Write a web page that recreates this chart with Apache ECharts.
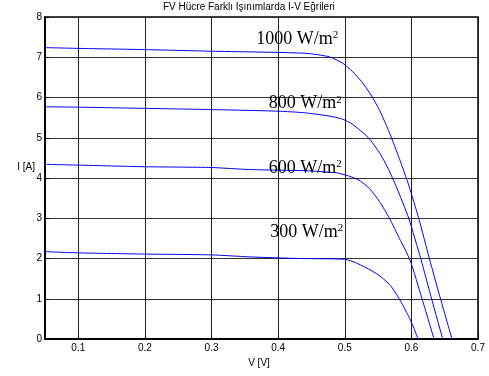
<!DOCTYPE html>
<html>
<head>
<meta charset="utf-8">
<script src="https://cdn.jsdelivr.net/npm/echarts@6/dist/echarts.min.js"></script>
<style>
  html, body { margin: 0; padding: 0; background: #fff; }
  #chart { width: 489px; height: 376px; }
</style>
</head>
<body>
<div id="chart"></div>
<script>
// eksen degerleri
var xTicks = [0.1, 0.2, 0.3, 0.4, 0.5, 0.6, 0.7];

// 1000 W/m2
var v1000 = [0.05, 0.10, 0.20, 0.30, 0.44, 0.477, 0.497, 0.512, 0.525, 0.538, 0.552, 0.567, 0.582, 0.596, 0.611, 0.627, 0.644, 0.661];
var i1000 = [7.24, 7.22, 7.19, 7.15, 7.10, 7.01, 6.85, 6.64, 6.40, 6.10, 5.69, 5.13, 4.48, 3.82, 3.00, 2.00, 0.98, 0];

// 800 W/m2
var v800 = [0.05, 0.10, 0.20, 0.30, 0.40, 0.44, 0.48, 0.497, 0.512, 0.535, 0.552, 0.565, 0.578, 0.596, 0.614, 0.630, 0.647];
var i800 = [5.77, 5.76, 5.73, 5.70, 5.66, 5.62, 5.53, 5.46, 5.33, 5.01, 4.63, 4.24, 3.76, 3.00, 2.00, 1.02, 0];

// 600 W/m2
var v600 = [0.05, 0.10, 0.20, 0.30, 0.357, 0.442, 0.487, 0.502, 0.52, 0.537, 0.552, 0.567, 0.582, 0.598, 0.616, 0.634];
var i600 = [4.34, 4.32, 4.28, 4.26, 4.21, 4.18, 4.13, 4.07, 3.96, 3.74, 3.42, 3.00, 2.50, 1.96, 1.00, 0];

// 300 W/m2
var v300 = [0.05, 0.10, 0.20, 0.30, 0.357, 0.432, 0.50, 0.516, 0.532, 0.549, 0.567, 0.581, 0.596, 0.603, 0.610];
var i300 = [2.17, 2.14, 2.11, 2.09, 2.04, 2.00, 1.98, 1.90, 1.77, 1.61, 1.36, 1.02, 0.56, 0.30, 0];

// egri etiketleri
var labelText = ['1000 W/m', '800 W/m', '600 W/m', '300 W/m'];
var labelV = [0.367, 0.386, 0.386, 0.388];
var labelI = [7.23, 5.63, 4.03, 2.44];

function pairs(v, i) {
	var out = [];
	for (var k = 0; k < v.length; k++) out.push([v[k], i[k]]);
	return out;
}

function curve(v, i, idx) {
	return {
		type: 'line',
		data: pairs(v, i),
		symbol: 'none',
		smooth: 0.2,
		lineStyle: { color: '#0000ff', width: 1 },
		markPoint: {
			symbol: 'circle',
			symbolSize: 0,
			silent: true,
			data: [{ coord: [labelV[idx], labelI[idx]], value: 0 }],
			label: {
				show: true,
				position: [0, 0],
				align: 'left',
				verticalAlign: 'bottom',
				formatter: '{a|' + labelText[idx] + '}{s|2}',
				rich: {
					a: { fontFamily: 'Liberation Serif', fontSize: 18, color: '#000' },
					s: { fontFamily: 'Liberation Serif', fontSize: 11, color: '#000', verticalAlign: 'top' }
				}
			}
		}
	};
}

var chart = echarts.init(document.getElementById('chart'));

chart.setOption({
	animation: false,
	backgroundColor: '#fff',
	textStyle: { fontFamily: 'Liberation Sans' },
	title: {
		text: 'FV Hücre Farklı Işınımlarda I-V Eğrileri',
		left: 163,
		top: 2,
		padding: 0,
		textStyle: { fontSize: 10, fontWeight: 'normal', color: '#000', fontFamily: 'Liberation Sans' }
	},
	grid: {
		left: 45, right: 11, top: 17, bottom: 37,
		show: true,
		borderColor: '#000',
		borderWidth: 1.5
	},
	xAxis: {
		type: 'value',
		min: 0.05,
		max: 0.7,
		name: 'V [V]',
		nameLocation: 'middle',
		nameGap: 19,
		nameMoveOverlap: false,
		nameTextStyle: { fontSize: 10, color: '#000', fontFamily: 'Liberation Sans', padding: [0, 5, 0, 0] },
		axisLine: { lineStyle: { color: '#000', width: 2 } },
		axisTick: { show: true, inside: true, length: 4, customValues: xTicks, lineStyle: { color: '#000' } },
		axisLabel: { customValues: xTicks, color: '#000', fontSize: 10, margin: 4,
			formatter: function (v) { return v.toFixed(1); } },
		splitLine: { show: true, lineStyle: { color: '#222', width: 1 } }
	},
	yAxis: {
		type: 'value',
		min: 0,
		max: 8,
		interval: 1,
		name: 'I [A]',
		nameLocation: 'middle',
		nameRotate: 0,
		nameGap: 10,
		nameMoveOverlap: false,
		nameTextStyle: { fontSize: 10, color: '#000', fontFamily: 'Liberation Sans',
			verticalAlign: 'bottom', lineHeight: 21 },
		axisLine: { lineStyle: { color: '#000', width: 2 } },
		axisTick: { show: true, inside: true, length: 4, lineStyle: { color: '#000' } },
		axisLabel: { color: '#000', fontSize: 10, margin: 3 },
		splitLine: { show: true, lineStyle: { color: '#333', width: 1 } }
	},
	series: [
		curve(v1000, i1000, 0),
		curve(v800, i800, 1),
		curve(v600, i600, 2),
		curve(v300, i300, 3)
	]
});
</script>
</body>
</html>
